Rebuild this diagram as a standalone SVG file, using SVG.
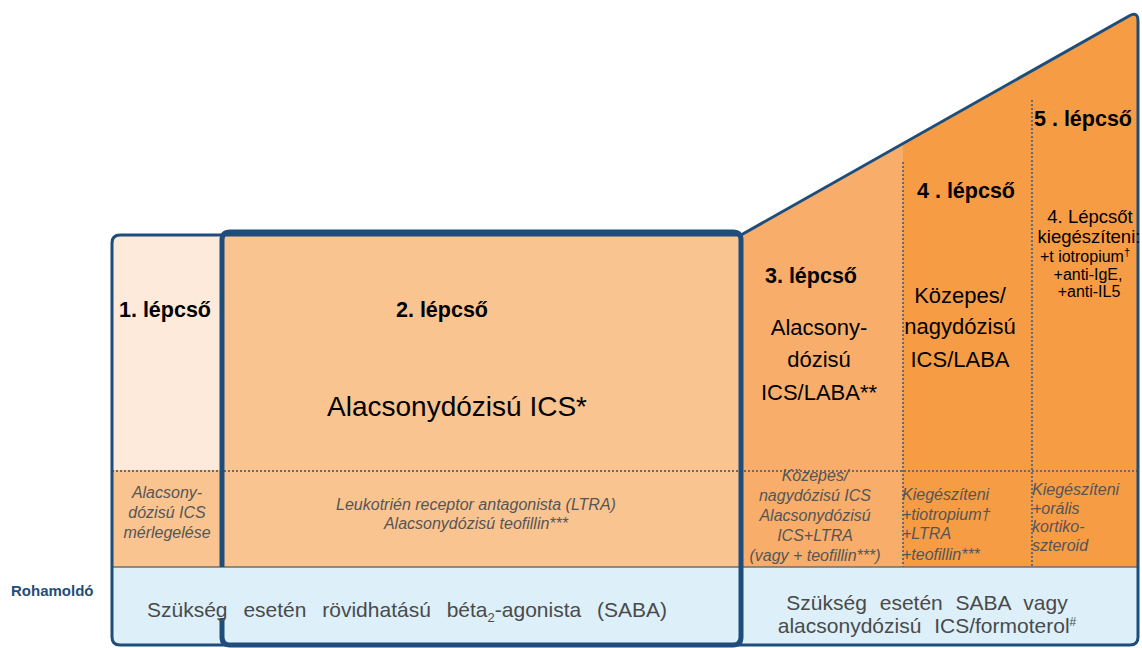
<svg xmlns="http://www.w3.org/2000/svg" width="1142" height="648" viewBox="0 0 1142 648">
<style>
.h{font-family:"Liberation Sans",Arial,sans-serif;font-weight:bold;font-size:21.5px;fill:#000;text-anchor:middle}
.m{font-family:"Liberation Sans",Arial,sans-serif;font-size:22px;fill:#000;text-anchor:middle}
.s{font-family:"Liberation Sans",Arial,sans-serif;font-size:16px;fill:#000;text-anchor:middle}
.i{font-family:"Liberation Sans",Arial,sans-serif;font-style:italic;font-size:16px;fill:#555;text-anchor:middle}
.il{font-family:"Liberation Sans",Arial,sans-serif;font-style:italic;font-size:16px;fill:#555}
.b{font-family:"Liberation Sans",Arial,sans-serif;font-size:21px;fill:#4a4a4a;word-spacing:7px}
.dot{stroke:#6a6a6a;stroke-width:2;stroke-dasharray:2 2;fill:none}
</style>
<defs>
<clipPath id="outer"><path d="M112,637 V243 Q112,235 120,235 H741 L1129,16 Q1138,11 1138,21 V637 Q1138,645 1130,645 H120 Q112,645 112,637 Z"/></clipPath>
</defs>
<g clip-path="url(#outer)">
<g id="step1-fill">
<rect x="112" y="230" width="110" height="240" fill="#fdeadb"/>
<rect x="112" y="470" width="110" height="97" fill="#fac491"/>
</g>
<rect x="222" y="230" width="519" height="337" fill="#fac491"/>
<polygon points="741,235 903,143 903,567 741,567" fill="#f8ae6a"/>
<polygon points="903,143 1032,70 1032,567 903,567" fill="#f69c45"/>
<polygon points="1032,70 1140,8 1140,567 1032,567" fill="#f69c45"/>
<rect x="112" y="567" width="1030" height="80" fill="#ddf0fa"/>
</g>
<g id="connectors">
<line class="dot" x1="112" y1="471" x2="1138" y2="471"/>
<line class="dot" x1="903" y1="162" x2="903" y2="567"/>
<line class="dot" x1="1032" y1="100" x2="1032" y2="567"/>
<line x1="112" y1="567" x2="1138" y2="567" stroke="#6e6e6e" stroke-width="1.5"/>
<path d="M112,637 V243 Q112,235 120,235 H741 L1129,16 Q1138,11 1138,21 V637 Q1138,645 1130,645 H120 Q112,645 112,637 Z" fill="none" stroke="#1e4d7b" stroke-width="3"/>
<path d="M222,567 V240 Q222,232 230,232 H733 Q741,232 741,240 V637 Q741,645 733,645 H230 Q222,645 222,637 V618" fill="none" stroke="#1e4d7b" stroke-width="5"/>
</g>
<g id="step1">
<text class="h" x="165" y="317">1. lépcső</text>
<text class="i" x="167" y="498">Alacsony-</text>
<text class="i" x="167" y="518">dózisú ICS</text>
<text class="i" x="167" y="538">mérlegelése</text>
</g>
<g id="step2">
<text class="h" x="442" y="317">2. lépcső</text>
<text class="m" x="457" y="416" style="font-size:28px">Alacsonydózisú ICS*</text>
<text class="i" x="476" y="510">Leukotrién receptor antagonista (LTRA)</text>
<text class="i" x="476" y="529">Alacsonydózisú teofillin***</text>
</g>
<g id="step3">
<text class="h" x="811" y="283">3. lépcső</text>
<text class="m" x="819" y="335">Alacsony-</text>
<text class="m" x="819" y="367">dózisú</text>
<text class="m" x="819" y="400">ICS/LABA**</text>
<text class="i" x="815" y="481">Közepes/</text>
<text class="i" x="815" y="501">nagydózisú ICS</text>
<text class="i" x="815" y="521">Alacsonydózisú</text>
<text class="i" x="815" y="541">ICS+LTRA</text>
<text class="i" x="815" y="561">(vagy + teofillin***)</text>
</g>
<g id="step4">
<text class="h" x="966" y="198">4 . lépcső</text>
<text class="m" x="960" y="303">Közepes/</text>
<text class="m" x="960" y="334">nagydózisú</text>
<text class="m" x="960" y="367">ICS/LABA</text>
<text class="il" x="902" y="500">Kiegészíteni</text>
<text class="il" x="902" y="520">+tiotropium†</text>
<text class="il" x="902" y="539">+LTRA</text>
<text class="il" x="902" y="560">+teofillin***</text>
</g>
<g id="step5">
<text class="h" x="1083" y="126">5 . lépcső</text>
<text class="s" x="1090" y="223" style="font-size:18.5px">4. Lépcsőt</text>
<text class="s" x="1089" y="243" style="font-size:18.5px">kiegészíteni:</text>
<text class="s" x="1085" y="262">+t iotropium<tspan dy="-6" font-size="11">†</tspan></text>
<text class="s" x="1088" y="280">+anti-IgE,</text>
<text class="s" x="1089" y="297">+anti-IL5</text>
<text class="il" x="1032" y="495">Kiegészíteni</text>
<text class="il" x="1032" y="514">+orális</text>
<text class="il" x="1032" y="532">kortiko-</text>
<text class="il" x="1032" y="551">szteroid</text>
</g>
<g id="reliever">
<text x="11" y="596" style="font-family:'Liberation Sans',Arial,sans-serif;font-weight:bold;font-size:15px;fill:#1f4e79">Rohamoldó</text>
<text class="b" x="147" y="617" style="word-spacing:10px">Szükség esetén rövidhatású béta<tspan dy="5" font-size="13">2</tspan><tspan dy="-5">-agonista (SABA)</tspan></text>
<text class="b" x="927" y="610" text-anchor="middle">Szükség esetén SABA vagy</text>
<text class="b" x="927" y="633" text-anchor="middle">alacsonydózisú ICS/formoterol<tspan dy="-7" font-size="12">#</tspan></text>
</g>
</svg>
